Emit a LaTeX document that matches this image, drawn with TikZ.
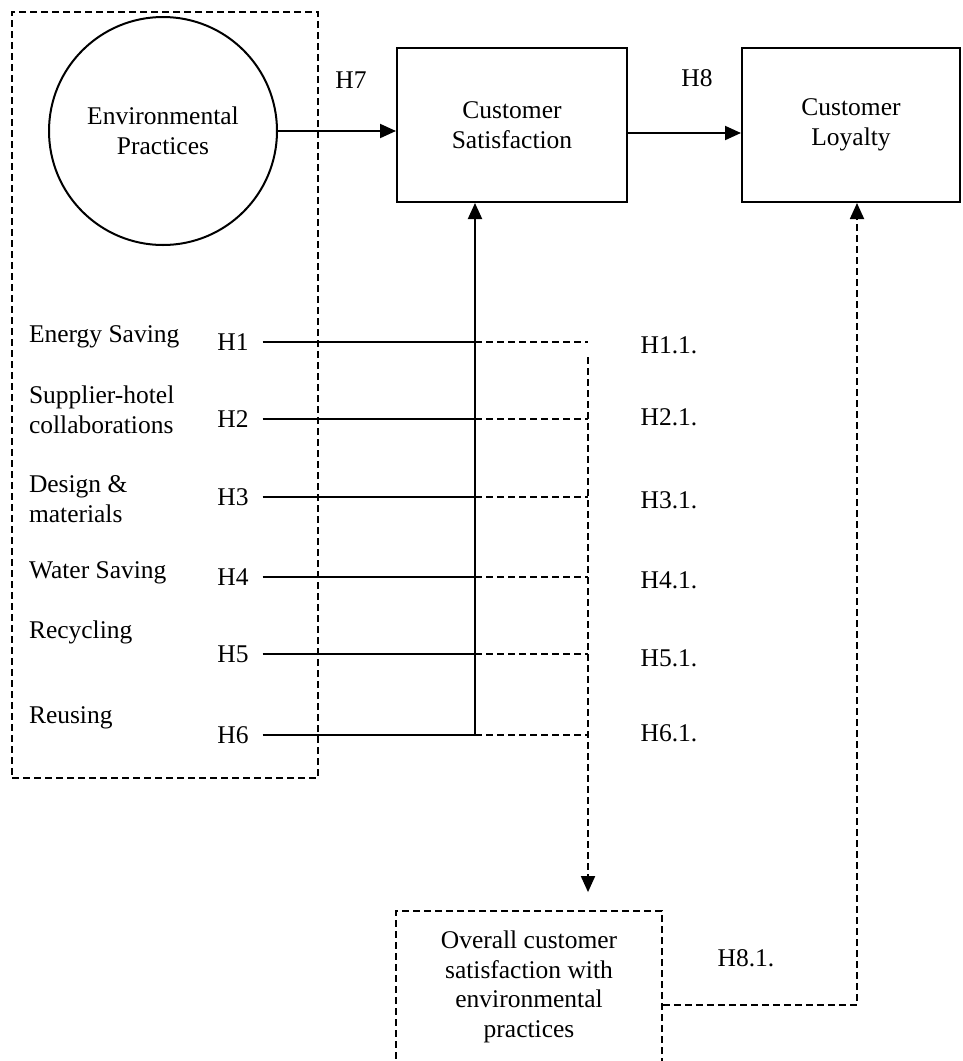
\documentclass[tikz,border=0pt]{standalone}
\usepackage{fontspec}
\setmainfont{Liberation Serif}
\usetikzlibrary{arrows.meta,calc}
\begin{document}
\begin{tikzpicture}[x=1pt,y=-1pt,line width=2pt,
  txt/.style={font=\fontsize{25.5}{29.5}\selectfont},
  lbl/.style={txt,align=left,anchor=west,inner sep=0pt},
  hl/.style={txt,inner sep=0pt},
  box/.style={draw,txt,align=center,minimum height=154pt},
  arr/.style={-{Triangle[length=16pt,width=14pt]}},
  dsh/.style={dash pattern=on 7pt off 4pt,line width=1.8pt}]
\useasboundingbox (0,0) rectangle (962,1061);

% group box of environmental practices
\node[draw,dsh,minimum width=306pt,minimum height=766pt,inner sep=0pt] (grp) at (165,395) {};

\node[draw,circle,minimum size=228pt,inner sep=0pt,txt,align=center] (ep) at (163,131) {Environmental\\Practices};

\node[box,minimum width=230pt] (cs) at (512,125) {Customer\\Satisfaction};
\node[box,minimum width=218pt] (cl) at (851,125) {Customer\\Loyalty};

\node[hl] (h7) at (351,80) {H7};
\node[hl] (h8) at (697,78) {H8};

\draw[arr] (ep) -- (ep -| cs.west);
\draw[arr] ([yshift=-8pt]cs.east) -- ([yshift=-8pt]cl.west);

% practices
\node[lbl] (es) at (28,337) {Energy Saving};
\node[lbl] (sh) at (28,410) {Supplier-hotel\\collaborations};
\node[lbl] (dm) at (28,499) {Design \&\\materials};
\node[lbl] (ws) at (28,573) {Water Saving};
\node[lbl] (rc) at (28,632) {Recycling};
\node[lbl] (ru) at (28,718) {Reusing};

\foreach \i/\y in {1/342,2/419,3/497,4/577,5/654,6/735} {
  \node[hl] (h\i) at (233,\y) {H\i};
  \coordinate (j\i) at (475,\y);
  \coordinate (d\i) at (588,\y);
  \draw[shorten <=13pt] (h\i) -- (j\i);
  \draw[dsh] (j\i) -- (d\i);
}
\foreach \i/\y in {1/345,2/417,3/500,4/580,5/658,6/733} {
  \node[hl] (r\i) at (669,\y) {H\i.1.};
}

\draw[arr] (j6) -- (j6 |- cs.south);

% overall satisfaction box
\node[draw,dsh,txt,align=center,minimum width=266pt,minimum height=152pt] (ov) at (529,987)
  {Overall customer\\satisfaction with\\environmental\\practices};

\draw[dsh,arr,shorten >=18pt] ([yshift=-15pt]d1) -- (d1 |- ov.north);

\node[hl] (h81) at (746,958) {H8.1.};
\coordinate (k) at (857,1005);
\draw[dsh,arr] (k -| ov.east) -- (k) -- (k |- cl.south);
\end{tikzpicture}
\end{document}
